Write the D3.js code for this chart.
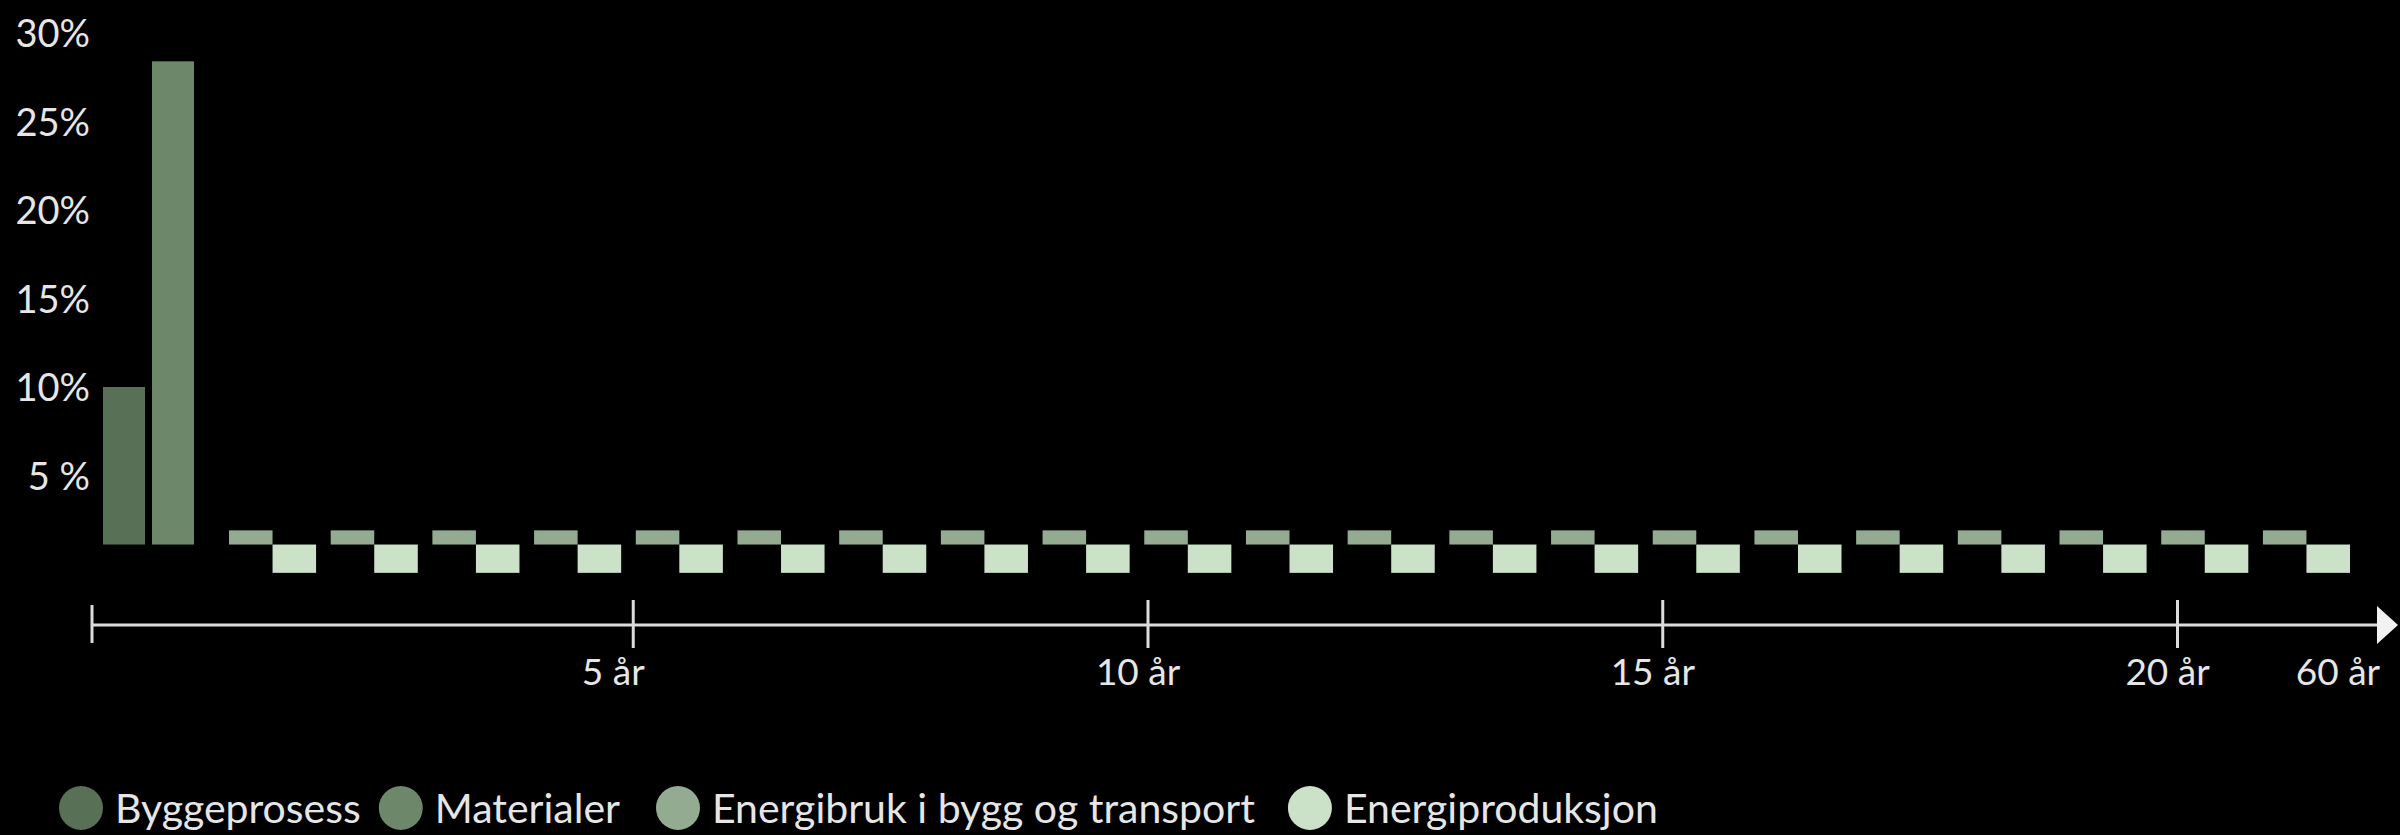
<!DOCTYPE html>
<html>
<head>
<meta charset="utf-8">
<script src="https://cdn.jsdelivr.net/npm/d3@7"></script>
<style>
  html, body { margin: 0; padding: 0; background: #000; }
  svg { display: block; }
  text { font-family: Lato, "Open Sans", sans-serif; fill: #e6e6e6; }
</style>
</head>
<body>
<svg id="chart" width="2400" height="835"></svg>
<script>
// ---------- DATA ----------
const seriesNames = ["Byggeprosess", "Materialer", "Energibruk i bygg og transport", "Energiproduksjon"];
const seriesColors = ["#587055", "#6c876a", "#93ab90", "#cbe2c8"];

// construction phase (two tall bars)
const constructionCategories = ["Byggeprosess", "Materialer"];
const constructionValues = [10.0, 28.4];

// operation years (pairs of small bars)
const years = ["1","2","3","4","5","6","7","8","9","10","11","12","13","14","15","16","17","18","19","20","60"];
const energibrukValues = [1.9,1.9,1.9,1.9,1.9,1.9,1.9,1.9,1.9,1.9,1.9,1.9,1.9,1.9,1.9,1.9,1.9,1.9,1.9,1.9,1.9];
const energiproduksjonValues = [-0.5,-0.5,-0.5,-0.5,-0.5,-0.5,-0.5,-0.5,-0.5,-0.5,-0.5,-0.5,-0.5,-0.5,-0.5,-0.5,-0.5,-0.5,-0.5,-0.5,-0.5];
const baseValue = 1.1; // bars grow from this level

// axis ticks
const yTickValues = [5, 10, 15, 20, 25, 30];
const yTickLabels = ["5 %", "10%", "15%", "20%", "25%", "30%"];
const xTickValues = [5, 10, 15, 20];
const xTickLabels = ["5 år", "10 år", "15 år", "20 år"];
const xEndLabel = "60 år";

// ---------- LAYOUT ----------
const svg = d3.select("#chart");
const W = 2400, H = 835;
svg.append("rect").attr("width", W).attr("height", H).attr("fill", "#000");

const y = d3.scaleLinear().domain([0, 30]).range([564, 33]);

const xConstruction = d3.scaleBand().domain(constructionCategories)
  .range([103, 194]).paddingInner(0.143).paddingOuter(0);
const xYears = d3.scaleBand().domain(years)
  .range([229, 2350]).paddingInner(0.1437).paddingOuter(0);
const xInner = d3.scaleBand().domain(["Energibruk", "Energiproduksjon"])
  .range([0, xYears.bandwidth()]).padding(0);
const xAxisScale = d3.scaleLinear().domain([0, 20]).range([118, 2177]);

const axisY = 625, axisStart = 92, axisEnd = 2377;

// ---------- Y AXIS LABELS ----------
const yAxis = d3.axisLeft(y).tickValues(yTickValues)
  .tickFormat((d, i) => yTickLabels[i]).tickSize(0).tickPadding(0);
const gy = svg.append("g").attr("transform", "translate(90,0)").call(yAxis);
gy.select(".domain").remove();
gy.selectAll("text")
  .attr("font-size", 38).attr("fill", "#e6e6e6")
  .attr("font-family", "Lato, 'Open Sans', sans-serif")
  .attr("dy", "0.36em");

// ---------- BARS ----------
const barBase = y(baseValue);
svg.append("g").selectAll("rect")
  .data(constructionCategories.map((c, i) => ({ c, v: constructionValues[i], i })))
  .join("rect")
  .attr("x", d => xConstruction(d.c))
  .attr("width", xConstruction.bandwidth())
  .attr("y", d => y(d.v))
  .attr("height", d => barBase - y(d.v))
  .attr("fill", d => seriesColors[d.i]);

const pairs = svg.append("g").selectAll("g")
  .data(years.map((yr, i) => ({ yr, e: energibrukValues[i], p: energiproduksjonValues[i] })))
  .join("g")
  .attr("transform", d => `translate(${xYears(d.yr)},0)`);

pairs.append("rect")
  .attr("x", xInner("Energibruk"))
  .attr("width", xInner.bandwidth())
  .attr("y", d => y(d.e))
  .attr("height", d => barBase - y(d.e))
  .attr("fill", seriesColors[2]);

pairs.append("rect")
  .attr("x", xInner("Energiproduksjon"))
  .attr("width", xInner.bandwidth())
  .attr("y", barBase)
  .attr("height", d => y(d.p) - barBase)
  .attr("fill", seriesColors[3]);

// ---------- X AXIS ----------
const axisColor = "#dcdcdc";
const gx = svg.append("g").attr("transform", `translate(0,${axisY})`);
gx.append("line").attr("x1", axisStart).attr("x2", axisEnd + 2)
  .attr("y1", 0).attr("y2", 0).attr("stroke", axisColor).attr("stroke-width", 3);
gx.append("line").attr("x1", axisStart).attr("x2", axisStart)
  .attr("y1", -20).attr("y2", 18).attr("stroke", axisColor).attr("stroke-width", 3);
gx.append("path")
  .attr("d", `M${axisEnd},-19 L${axisEnd + 21},0 L${axisEnd},19 Z`)
  .attr("fill", "#f2f2f2");

const xAxis = d3.axisBottom(xAxisScale).tickValues(xTickValues)
  .tickFormat((d, i) => xTickLabels[i]);
const gt = gx.append("g").call(xAxis);
gt.select(".domain").remove();
gt.selectAll(".tick line").attr("y1", -25).attr("y2", 23)
  .attr("stroke", axisColor).attr("stroke-width", 3);
gt.selectAll(".tick text")
  .attr("x", d => d === 5 ? -20 : -10).attr("y", 60).attr("dy", null)
  .attr("font-size", 37).attr("fill", "#e6e6e6")
  .attr("font-family", "Lato, 'Open Sans', sans-serif");

gx.append("text").text(xEndLabel)
  .attr("x", axisEnd + 3).attr("y", 60)
  .attr("text-anchor", "end").attr("font-size", 37);

// ---------- LEGEND ----------
const legend = svg.append("g").attr("transform", "translate(0,808)");
let cx = 81;
const r = 22;
const legendGaps = [40, 58, 55];
seriesNames.forEach((name, i) => {
  legend.append("circle").attr("cx", cx).attr("cy", 0).attr("r", r)
    .attr("fill", seriesColors[i]);
  const t = legend.append("text").text(name)
    .attr("x", cx + 34).attr("y", 0).attr("dy", "0.36em")
    .attr("font-size", 41);
  const w = t.node().getComputedTextLength();
  cx = cx + 34 + w + (legendGaps[i] || 50);
});
</script>
</body>
</html>
